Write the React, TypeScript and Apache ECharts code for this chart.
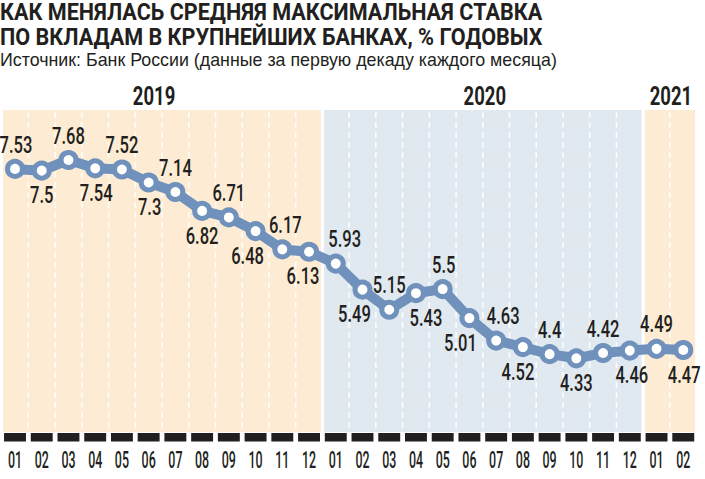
import React, { useEffect, useRef } from "react";
import * as echarts from "echarts";

const TITLE_LINES = [
  "КАК МЕНЯЛАСЬ СРЕДНЯЯ МАКСИМАЛЬНАЯ СТАВКА",
  "ПО ВКЛАДАМ В КРУПНЕЙШИХ БАНКАХ, % ГОДОВЫХ",
];
const SUBTITLE = "Источник: Банк России (данные за первую декаду каждого месяца)";

const MONTHS = [
  "01", "02", "03", "04", "05", "06", "07", "08", "09", "10", "11", "12",
  "01", "02", "03", "04", "05", "06", "07", "08", "09", "10", "11", "12",
  "01", "02",
];
const RATES = [
  7.53, 7.5, 7.68, 7.54, 7.52, 7.3, 7.14, 6.82, 6.71, 6.48, 6.17, 6.13,
  5.93, 5.49, 5.15, 5.43, 5.5, 5.01, 4.63, 4.52, 4.4, 4.33, 4.42, 4.46,
  4.49, 4.47,
];
const YEARS = ["2019", "2020", "2021"];
const YEAR_FIRST = [0, 12, 24];
const YEAR_LAST = [11, 23, 25];

// styling
const BAND_COLORS = ["#fdecd3", "#e1e9f0", "#fdecd3"];
const YEAR_DX = [-8, 2, 1];
const LABEL_SIDE = RATES.map((_, i) => (i % 2 === 0 ? -1 : 1));
const LABEL_DX = [1, 0, 0, 1, 0, 1, 0, 0, 0, -8, 3, -6, 9, -8, 0, 10, 1, -9, 7, -5, 0, 0, 0, 2, 0, 1];
const INK = "#231f20";
const LINE = "#6f91bc";
const COND = "Roboto, 'Liberation Sans', Arial, sans-serif";
const Y_MIN = 3.085;
const Y_MAX = 8.525;

export default function App() {
  const ref = useRef<HTMLDivElement>(null);
  useEffect(() => {
    if (!ref.current) return;
    const chart = echarts.init(ref.current, undefined, { renderer: "svg" });
    chart.setOption({
      animation: false,
      backgroundColor: "#ffffff",
      grid: { left: 1.635, top: 110, width: 695, height: 322 },
      xAxis: {
        type: "category",
        data: MONTHS,
        boundaryGap: true,
        axisLine: { show: false },
        axisTick: { show: false },
        splitLine: { show: false },
        axisLabel: { show: false },
      },
      yAxis: {
        type: "value",
        min: Y_MIN,
        max: Y_MAX,
        show: false,
        splitLine: { show: false },
      },
      graphic: [
        {
          type: "text",
          x: 0,
          y: 12.5,
          scaleX: 0.9,
          style: {
            text: TITLE_LINES[0],
            fontFamily: COND,
            fontWeight: "bold",
            fontSize: 24,
            lineHeight: 22,
            fill: INK,
            verticalAlign: "middle",
          },
        },
        {
          type: "text",
          x: 0,
          y: 37.5,
          scaleX: 0.9,
          style: {
            text: TITLE_LINES[1],
            fontFamily: COND,
            fontWeight: "bold",
            fontSize: 24,
            lineHeight: 22,
            fill: INK,
            verticalAlign: "middle",
          },
        },
        {
          type: "text",
          x: 0,
          y: 59.5,
          scaleX: 0.99,
          style: {
            text: SUBTITLE,
            fontFamily: "'Liberation Sans', Arial, sans-serif",
            fontSize: 18,
            lineHeight: 18,
            fill: INK,
            verticalAlign: "middle",
          },
        },
      ],
      series: [
        {
          type: "custom",
          z: 1,
          clip: false,
          silent: true,
          encode: { x: [0, 1] },
          data: YEARS.map((_, i) => [YEAR_FIRST[i], YEAR_LAST[i], i]),
          renderItem: (params: any, api: any) => {
            const s = api.value(0);
            const e = api.value(1);
            const ci = api.value(2);
            const step = api.size([1, 0])[0];
            const top = api.coord([s, Y_MAX])[1];
            const bottom = api.coord([s, Y_MIN])[1];
            const xs = api.coord([s, Y_MIN])[0] - step / 2 + 1.5;
            const xe = api.coord([e, Y_MIN])[0] + step / 2 - 1.5;
            const children: any[] = [
              {
                type: "rect",
                shape: { x: xs, y: top, width: xe - xs, height: bottom - top },
                style: { fill: BAND_COLORS[ci] },
              },
            ];
            for (let k = s; k < e; k++) {
              const x = api.coord([k, Y_MIN])[0] + step / 2;
              children.push({
                type: "line",
                shape: { x1: x, y1: top + 2, x2: x, y2: bottom },
                style: { stroke: "rgba(255,255,255,0.9)", lineWidth: 1.5, lineDash: [6, 4] },
              });
            }
            children.push({
              type: "text",
              x: (xs + xe) / 2 + YEAR_DX[ci],
              y: top - 14,
              scaleX: 0.74,
              style: {
                text: YEARS[ci],
                fontFamily: COND,
                fontWeight: "bold",
                fontSize: 25,
                fill: INK,
                align: "center",
                verticalAlign: "middle",
              },
            });
            return { type: "group", children };
          },
        },
        {
          type: "custom",
          z: 1,
          clip: false,
          silent: true,
          encode: { x: 0 },
          data: MONTHS.map((m, i) => [i]),
          renderItem: (params: any, api: any) => {
            const step = api.size([1, 0])[0];
            const idx = api.value(0);
            const p = api.coord([idx, Y_MIN]);
            const w = step - 4.8;
            return {
              type: "group",
              children: [
                {
                  type: "rect",
                  shape: { x: p[0] - w / 2, y: p[1] + 1, width: w, height: 8.5 },
                  style: { fill: INK },
                },
                {
                  type: "text",
                  x: p[0],
                  y: p[1] + 28.5,
                  scaleX: 0.54,
                  style: {
                    text: MONTHS[idx],
                    fontFamily: COND,
                    fontWeight: 500,
                    fontSize: 23,
                    fill: INK,
                    align: "center",
                    verticalAlign: "middle",
                  },
                },
              ],
            };
          },
        },
        {
          type: "line",
          z: 3,
          data: RATES,
          lineStyle: { color: LINE, width: 10 },
          symbol: "circle",
          symbolSize: 15,
          itemStyle: { color: "#ffffff", borderColor: LINE, borderWidth: 5 },
          label: { show: false },
        },
        {
          type: "custom",
          z: 5,
          clip: false,
          silent: true,
          encode: { x: 0, y: 1 },
          data: RATES.map((v, i) => [i, v]),
          renderItem: (params: any, api: any) => {
            const i = api.value(0);
            const v = api.value(1);
            const p = api.coord([i, v]);
            return {
              type: "text",
              x: p[0] + LABEL_DX[i],
              y: p[1] + LABEL_SIDE[i] * 24.5,
              scaleX: 0.69,
              style: {
                text: String(RATES[i]),
                fontFamily: COND,
                fontWeight: 500,
                fontSize: 24,
                fill: INK,
                align: "center",
                verticalAlign: "middle",
              },
            };
          },
        },
      ],
    });
    return () => chart.dispose();
  }, []);
  return (
    <div
      ref={ref}
      style={{ position: "absolute", left: 0, top: 0, width: 705, height: 479, background: "#fff" }}
    />
  );
}
